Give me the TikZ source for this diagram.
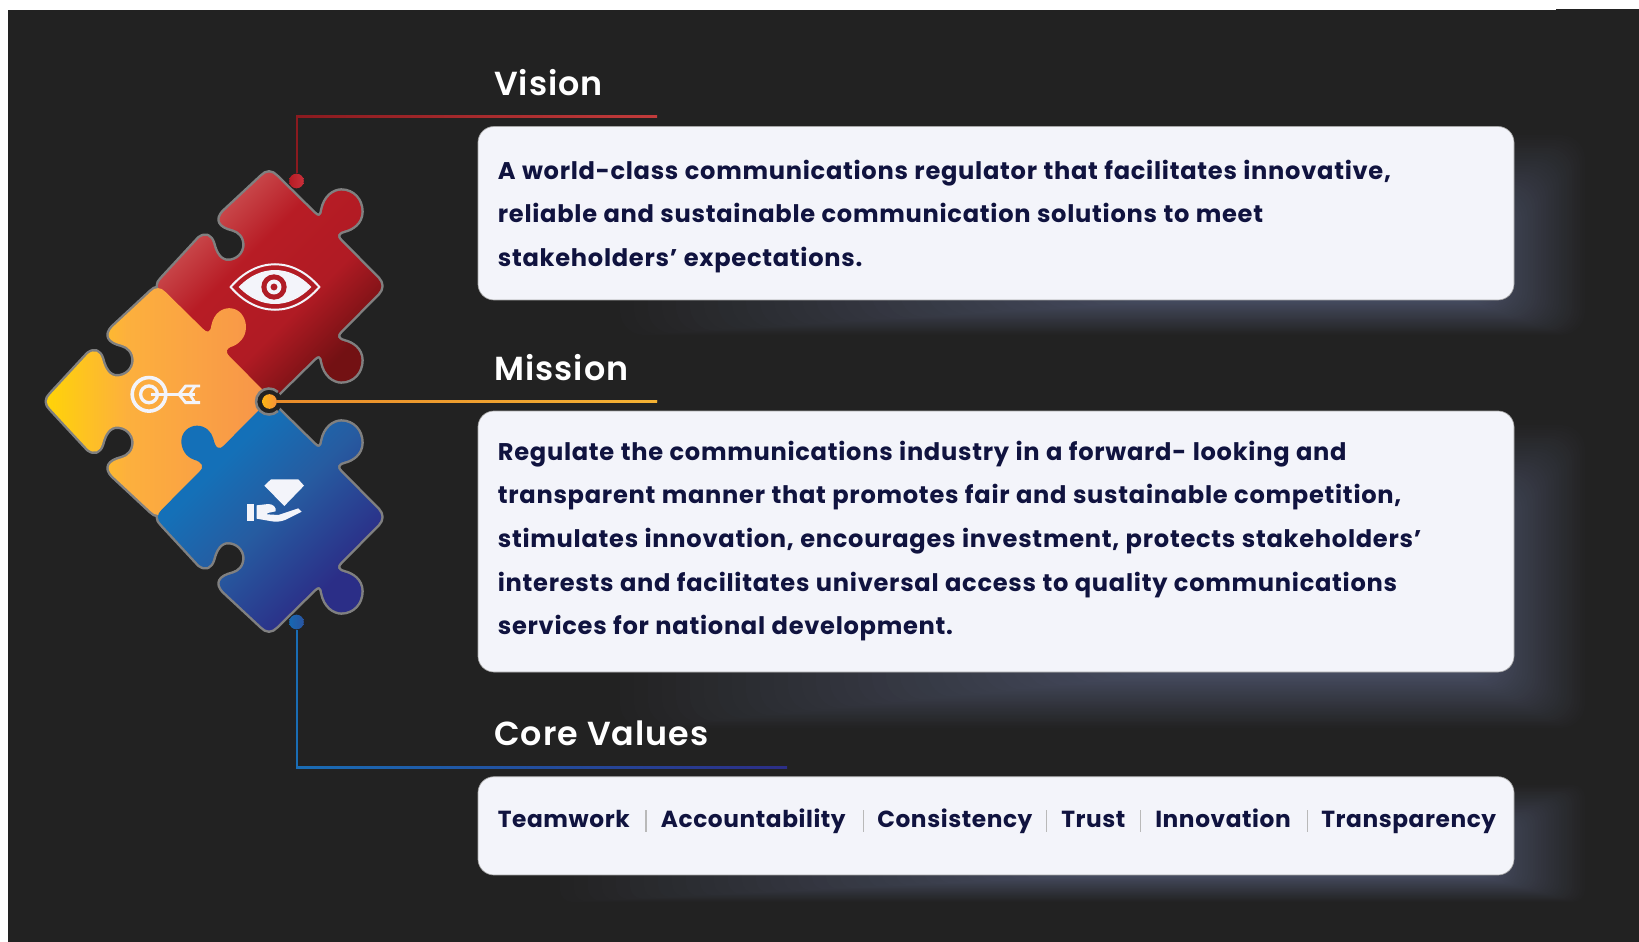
\documentclass[tikz,border=0pt]{standalone}
\usepackage{fontspec}
\setmainfont{Poppins}[BoldFont=Poppins SemiBold]
\newfontfamily\bodyfont{Poppins}[LetterSpace=3.0,WordSpace=1.1]
\newfontfamily\corefont{Poppins}[LetterSpace=2.5]
\newfontfamily\headfont{Poppins}[BoldFont=Poppins SemiBold,LetterSpace=3]
\definecolor{bgdark}{HTML}{222222}
\definecolor{boxfill}{HTML}{F3F4FA}
\definecolor{inkblue}{HTML}{10133F}
\definecolor{glowc}{HTML}{474D62}
\definecolor{edgegray}{HTML}{808080}
\definecolor{lred1}{HTML}{8B1A1F}\definecolor{lred2}{HTML}{C23B3B}\definecolor{dred}{HTML}{B71C25}\definecolor{dred2}{HTML}{C9303A}
\definecolor{lorg1}{HTML}{E98B2A}\definecolor{lorg2}{HTML}{F4B233}\definecolor{dorg1}{HTML}{FDB515}\definecolor{dorg2}{HTML}{F7923A}
\definecolor{lblu1}{HTML}{1A6DB5}\definecolor{lblu2}{HTML}{2C2E87}\definecolor{dblu1}{HTML}{1768B2}\definecolor{dblu2}{HTML}{2A54A0}
\definecolor{eyered}{HTML}{B01C26}
\pgfdeclarehorizontalshading{redsh}{100bp}{rgb(0bp)=(.79,.29,.30);rgb(30bp)=(.79,.29,.30);rgb(42bp)=(.72,.11,.145);rgb(58bp)=(.69,.105,.14);rgb(72bp)=(.45,.065,.075);rgb(100bp)=(.45,.065,.075)}
\pgfdeclarehorizontalshading{orangesh}{100bp}{rgb(0bp)=(1,.83,.03);rgb(25bp)=(1,.83,.03);rgb(43bp)=(.99,.69,.24);rgb(75bp)=(.97,.58,.29);rgb(100bp)=(.97,.58,.29)}
\pgfdeclarehorizontalshading{bluesh}{100bp}{rgb(0bp)=(.08,.44,.72);rgb(34bp)=(.08,.44,.72);rgb(50bp)=(.15,.36,.63);rgb(70bp)=(.17,.18,.53);rgb(100bp)=(.17,.18,.53)}
\newcommand\rightside{(-22,-329) .. controls (-8,-344) and (8,-344) .. (22,-329) -- (135,-218) .. controls (147,-206) and (157,-205) .. (160,-228) .. controls (168,-268) and (195,-286) .. (217,-286) .. controls (252,-286) and (277,-258) .. (277,-223) .. controls (277,-190) and (250,-172) .. (225,-166) .. controls (205,-160) and (200,-150) .. (215,-135) -- (327,-22) .. controls (340,-8) and (340,8) .. (327,22) -- (215,135) .. controls (200,150) and (205,160) .. (225,166) .. controls (250,172) and (277,190) .. (277,223) .. controls (277,258) and (252,286) .. (217,286) .. controls (195,286) and (168,268) .. (160,228) .. controls (157,205) and (147,206) .. (135,218) -- (22,329) .. controls (8,344) and (-8,344) .. (-22,329)}
\newcommand\orangeside{(-22,-329) .. controls (-8,-344) and (8,-344) .. (22,-329) -- (135,-218) .. controls (147,-206) and (157,-205) .. (160,-228) .. controls (168,-268) and (195,-280) .. (214,-280) .. controls (245,-280) and (264,-252) .. (264,-223) .. controls (264,-190) and (240,-172) .. (225,-166) .. controls (205,-160) and (200,-150) .. (215,-135) -- (327,-22) .. controls (340,-8) and (340,8) .. (327,22) -- (22,329) .. controls (8,344) and (-8,344) .. (-22,329)}
\newcommand\notchLL{-- (-136,223) .. controls (-158,200) and (-150,180) .. (-108,170) .. controls (-90,165) and (-73,150) .. (-73,123) .. controls (-73,97) and (-95,75) .. (-123,75) .. controls (-145,75) and (-160,95) .. (-168,128) .. controls (-175,150) and (-190,158) .. (-210,143) -- (-322,22)}
\newcommand\leftcorner{.. controls (-337,8) and (-337,-8) .. (-322,-22)}
\newcommand\notchUL{-- (-210,-143) .. controls (-190,-158) and (-175,-150) .. (-168,-128) .. controls (-160,-95) and (-145,-75) .. (-123,-75) .. controls (-95,-75) and (-73,-97) .. (-73,-123) .. controls (-73,-150) and (-90,-165) .. (-108,-170) .. controls (-150,-180) and (-158,-200) .. (-136,-223) -- cycle}
\newcommand\knobUL{-- (-210,-135) .. controls (-192,-150) and (-200,-165) .. (-225,-172) .. controls (-250,-180) and (-263,-205) .. (-263,-227) .. controls (-263,-255) and (-240,-274) .. (-216,-274) .. controls (-190,-274) and (-172,-255) .. (-167,-235) .. controls (-160,-205) and (-150,-200) .. (-135,-215) -- cycle}
\newcommand\glowband[6]{%
  \foreach \i in {0,...,39}{%
    \pgfmathsetmacro\gl{#1+\i*14}%
    \pgfmathsetmacro\gr{1585-\i*2.6}%
    \pgfmathsetmacro\gt{#2+\i*#5}%
    \pgfmathsetmacro\gb{#3-\i*(#3-#4)/40}%
    \pgfmathsetmacro\gp{100*(\i+1)/40}%
    \fill[glowc!\gp!bgdark,rounded corners=#6] (\gl,\gt) rectangle (\gr,\gb);
  }}
\tikzset{
  infobox/.style={draw=gray!70,line width=.5pt,fill=boxfill,rounded corners=12pt,inner sep=0pt,outer sep=0pt,minimum width=777pt},
  headtxt/.style={text=white,anchor=base west,inner sep=0pt,font=\headfont\bfseries\fontsize{25}{30}\selectfont},
  bodytxt/.style={text=inkblue,anchor=base west,inner sep=0pt,font=\bodyfont\bfseries\fontsize{18.1}{22}\selectfont},
  coretxt/.style={text=inkblue,anchor=base west,inner sep=0pt,font=\corefont\bfseries\fontsize{17.45}{22}\selectfont},
  dotnode/.style={circle,inner sep=0pt,minimum size=11pt},
  edgeline/.style={draw=edgegray,line width=3.7pt,line join=round},
  conn/.style={line width=1.5pt},
  sepline/.style={draw=gray!55,line width=.9pt},
  iconw/.style={fill=boxfill,draw=none}
}
\begin{document}
\begin{tikzpicture}[x=.75pt,y=-.75pt]
\useasboundingbox (0,0) rectangle (1639,942);
\fill[white] (0,0) rectangle (1639,942);
\fill[bgdark] (8,10) rectangle (1639,942);
\fill[bgdark] (1556,9) rectangle (1639,10);
% glows
\glowband{620}{135}{335}{299}{2.6}{18pt}
\glowband{620}{425}{728}{671}{2.6}{18pt}
\glowband{560}{785}{902}{874}{1.4}{9pt}
% boxes
\node[infobox,minimum height=130.1pt] (box1) at (996,213.25) {};
\node[infobox,minimum height=195.75pt] (box2) at (996,541.5) {};
\node[infobox,minimum height=73.7pt] (box3) at (996,825.85) {};
% puzzle outlines
\begin{scope}[shift={(269,286)},x=.25pt,y=-.25pt]
  \path[edgeline] \rightside -- (-322,22) \leftcorner \notchUL;
\end{scope}
\begin{scope}[shift={(158,401.5)},x=.25pt,y=-.25pt]
  \path[edgeline] \orangeside \notchLL \leftcorner \notchUL;
\end{scope}
\begin{scope}[shift={(269,517)},x=.25pt,y=-.25pt]
  \path[edgeline] \rightside \notchLL \leftcorner \knobUL;
\end{scope}
% puzzle fills
\begin{scope}[shift={(269,286)},x=.25pt,y=-.25pt]
  \path[shading=redsh,shading angle=-45] \rightside -- (-322,22) \leftcorner \notchUL;
\end{scope}
\begin{scope}[shift={(158,401.5)},x=.25pt,y=-.25pt]
  \path[shading=orangesh] \orangeside \notchLL \leftcorner \notchUL;
\end{scope}
\begin{scope}[shift={(269,517)},x=.25pt,y=-.25pt]
  \path[shading=bluesh,shading angle=-45] \rightside \notchLL \leftcorner \knobUL;
\end{scope}
% ring round the mission dot
\fill[bgdark] (269,401.5) circle[radius=9.75pt];
\draw[draw=edgegray,line width=1.9pt] (277.9,392) arc[start angle=47,end angle=313,radius=9.75pt];
% connectors
\node[dotnode,left color=dred,right color=dred2] (reddot) at (296.5,181) {};
\node[dotnode,left color=dorg1,right color=dorg2] (orgdot) at (269.5,401.5) {};
\node[dotnode,left color=dblu1,right color=dblu2] (bludot) at (296.5,622) {};
\coordinate (redend) at (657,117);
\coordinate (orgend) at (657,401);
\coordinate (bluend) at (787,767);
\draw[conn,draw=lred1] (reddot) |- (redend);
\draw[conn,draw=lorg1] (orgdot) -- (orgend);
\draw[conn,draw=lblu1] (bludot) |- (bluend);
\fill[left color=lred1,right color=lred2] (296,116) rectangle (657,118);
\fill[left color=lorg1,right color=lorg2] (276,400) rectangle (657,402);
\fill[left color=lblu1,right color=lblu2] (296,766) rectangle (787,768);
% eye
\begin{scope}[shift={(0,100)},x=.25pt,y=-.25pt]
  \draw[draw=boxfill,line width=1.5pt] (692,561) .. controls (770,470) and (880,470) .. (958,561) .. controls (880,652) and (770,652) .. (692,561) -- cycle;
  \fill[boxfill] (716,561) .. controls (780,493) and (870,493) .. (934,561) .. controls (870,629) and (780,629) .. (716,561) -- cycle;
  \fill[eyered] (822,561) circle[radius=9.5pt];
  \fill[boxfill] (822,561) circle[radius=5.6pt];
  \fill[eyered] (822,561) circle[radius=2.6pt];
\end{scope}
% target
\begin{scope}[shift={(115,360)},x=.25pt,y=-.25pt]
  \draw[draw=boxfill,line width=2.7pt] (102,103) circle[radius=12.6pt];
  \draw[draw=boxfill,line width=2.5pt] (102,103) circle[radius=6.3pt];
  \draw[draw=boxfill,line width=2.2pt] (108,103) -- (240,103);
  \draw[draw=boxfill,line width=2.2pt,line join=miter] (255,78) -- (212,78) -- (192,103) -- (212,128) -- (255,128);
  \draw[draw=boxfill,line width=2pt] (240,78) -- (224,103) -- (240,128);
\end{scope}
% gift hand
\begin{scope}[shift={(235,470)},x=.25pt,y=-.25pt]
  \fill[iconw] (108,28) -- (190,28) -- (207,47) -- (148,108) -- (88,47) -- cycle;
  \fill[iconw] (36,103) rectangle (57,153);
  \fill[iconw] (65,106) -- (100,102) .. controls (115,102) and (124,112) .. (122,124) -- (98,129) -- (96,133) -- (130,135) -- (190,115) -- (200,125) -- (150,150) .. controls (135,156) and (120,156) .. (105,153) -- (65,146) -- cycle;
\end{scope}
% headings
\node[headtxt] (h1) at (494,96) {Vision};
\node[headtxt] (h2) at (494,380.5) {Mission};
\node[headtxt] (h3) at (494,745) {Core Values};
% body
\node[bodytxt] (a1) at (497.6,179.8) {A world-class communications regulator that facilitates innovative,};
\node[bodytxt] (a2) at (497.6,222.6) {reliable and sustainable communication solutions to meet};
\node[bodytxt] (a3) at (497.6,266.4) {stakeholders’ expectations.};
\node[bodytxt] (b1) at (497.6,460.2) {Regulate the communications industry in a forward- looking and};
\node[bodytxt] (b2) at (497.6,503.8) {transparent manner that promotes fair and sustainable competition,};
\node[bodytxt] (b3) at (497.6,547.4) {stimulates innovation, encourages investment, protects stakeholders’};
\node[bodytxt] (b4) at (497.6,591) {interests and facilitates universal access to quality communications};
\node[bodytxt] (b5) at (497.6,634.6) {services for national development.};
\node[coretxt] (c1) at (497.6,827) {Teamwork};
\node[coretxt] (c2) at (660.6,827) {Accountability};
\node[coretxt] (c3) at (877,827) {Consistency};
\node[coretxt] (c4) at (1061,827) {Trust};
\node[coretxt] (c5) at (1155,827) {Innovation};
\node[coretxt] (c6) at (1321,827) {Transparency};
\foreach \sx in {646,863.4,1046.4,1140.5,1307.6}{\draw[sepline] (\sx,810) -- (\sx,832);}
\end{tikzpicture}
\end{document}
